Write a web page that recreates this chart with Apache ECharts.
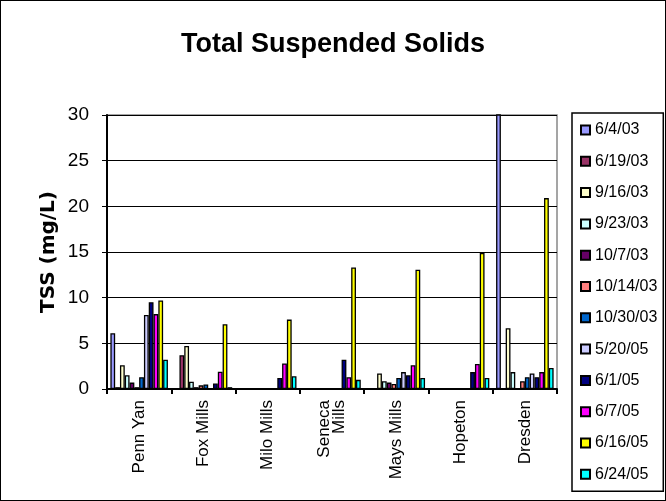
<!DOCTYPE html>
<html><head><meta charset="utf-8">
<script src="https://cdn.jsdelivr.net/npm/echarts@6/dist/echarts.min.js"></script>
<style>
html,body{margin:0;padding:0;background:#fff;}
#c{width:666px;height:501px;box-sizing:border-box;border:1px solid #000;}
</style></head>
<body><div id="c"></div>
<script>
const categories = ['Penn Yan','Fox Mills','Milo Mills','Seneca\nMills','Mays Mills','Hopeton','Dresden'];
const seriesNames = ['6/4/03','6/19/03','9/16/03','9/23/03','10/7/03','10/14/03','10/30/03','5/20/05','6/1/05','6/7/05','6/16/05','6/24/05'];
const colors = ['#9999FF','#993366','#FFFFCC','#CCFFFF','#660066','#FF8080','#0066CC','#CCCCFF','#000080','#FF00FF','#FFFF00','#00FFFF'];
// values per date, one entry per site (null = no sample)
const v_0604_03 = [6.1, null, null, null, null, null, 31];
const v_0619_03 = [0.2, 3.7, null, null, null, null, null];
const v_0916_03 = [2.6, 4.7, null, null, 1.7, null, 6.65];
const v_0923_03 = [1.5, 0.8, null, null, 0.85, null, 1.85];
const v_1007_03 = [0.7, 0.2, null, null, 0.7, null, null];
const v_1014_03 = [0.2, 0.4, null, null, 0.55, null, 0.85];
const v_1030_03 = [1.3, 0.5, null, null, 1.2, null, 1.3];
const v_0520_05 = [8.1, null, null, null, 1.85, null, 1.7];
const v_0601_05 = [9.5, 0.6, 1.2, 3.2, 1.5, 1.85, 1.3];
const v_0607_05 = [8.2, 1.9, 2.8, 1.3, 2.6, 2.75, 1.85];
const v_0616_05 = [9.7, 7.1, 7.6, 13.3, 13.05, 14.9, 20.9];
const v_0624_05 = [3.2, 0.2, 1.4, 1.0, 1.2, 1.2, 2.3];
const allValues = [v_0604_03,v_0619_03,v_0916_03,v_0923_03,v_1007_03,v_1014_03,v_1030_03,v_0520_05,v_0601_05,v_0607_05,v_0616_05,v_0624_05];
const yTicks = {min:0, max:30, interval:5};

const chart = echarts.init(document.getElementById('c'));
const font = 'Liberation Sans, Arial, sans-serif';
chart.setOption({
  animation:false,
  textStyle:{fontFamily:font},
  title:{text:'Total Suspended Solids', left:'center', top:25, padding:[5,0,5,0],
    textStyle:{fontSize:27, fontWeight:'bold', color:'#000', fontFamily:font}},
  legend:{orient:'vertical', left:571, top:112,
    padding:[9,6,9,8], itemGap:15.3, itemWidth:9, itemHeight:9,
    borderColor:'#000', borderWidth:1.5, icon:'rect',
    textStyle:{fontSize:16, color:'#000', fontFamily:font},
    data:seriesNames},
  grid:{left:106, right:108, top:114, bottom:111, show:true, borderColor:'#888', borderWidth:1.5},
  xAxis:{type:'category', data:categories,
    axisLine:{lineStyle:{color:'#000', width:2}},
    axisTick:{show:true, length:5, lineStyle:{color:'#000', width:2}},
    axisLabel:{rotate:90, fontSize:17, color:'#000', margin:11, lineHeight:15, fontFamily:font, interval:0}},
  yAxis:{type:'value', min:yTicks.min, max:yTicks.max, interval:yTicks.interval,
    name:'TSS (mg/L)', nameLocation:'middle', nameGap:48, nameMoveOverlap:false,
    nameTextStyle:{fontSize:20, fontWeight:'bold', color:'#000', fontFamily:'DejaVu Sans, sans-serif'},
    axisLine:{show:true, lineStyle:{color:'#000', width:2}},
    axisTick:{show:true, length:5, lineStyle:{color:'#000', width:1}},
    axisLabel:{fontSize:19, color:'#000', margin:18, fontFamily:font},
    splitLine:{lineStyle:{color:'#000', width:1}}},
  series: seriesNames.map((n,i)=>({
    name:n, type:'bar', data:allValues[i], barGap:'0%', barCategoryGap:'10.5%',
    clip:true,
    itemStyle:{color:colors[i], borderColor:'#000', borderWidth:1.3}
  }))
});
</script></body></html>
